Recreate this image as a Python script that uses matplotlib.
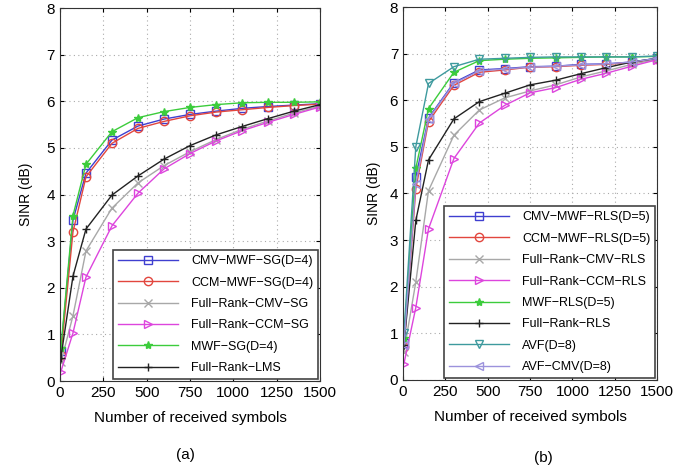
import matplotlib.pyplot as plt

plt.rcParams['font.family'] = ['Liberation Sans', 'DejaVu Sans']

# received symbols (x axis)
symbols = [5, 75, 150, 300, 450, 600, 750, 900, 1050, 1200, 1350, 1500]

# (a) SG algorithms
cmv_mwf_sg = [0.65, 3.45, 4.46, 5.17, 5.47, 5.62, 5.72, 5.79, 5.85, 5.89, 5.92, 5.95]
ccm_mwf_sg = [0.55, 3.2, 4.38, 5.1, 5.42, 5.57, 5.69, 5.77, 5.82, 5.87, 5.91, 5.94]
fr_cmv_sg = [0.4, 1.4, 2.79, 3.71, 4.25, 4.62, 4.92, 5.18, 5.4, 5.58, 5.75, 5.9]
fr_ccm_sg = [0.2, 1.03, 2.23, 3.33, 4.03, 4.55, 4.88, 5.15, 5.37, 5.55, 5.72, 5.88]
mwf_sg = [0.7, 3.55, 4.65, 5.35, 5.65, 5.78, 5.87, 5.93, 5.97, 5.98, 5.98, 5.99]
fr_lms = [0.5, 2.25, 3.26, 3.99, 4.4, 4.76, 5.05, 5.28, 5.46, 5.63, 5.79, 5.93]

# (b) RLS algorithms
cmv_mwf_rls = [0.8, 4.35, 5.62, 6.38, 6.65, 6.68, 6.72, 6.73, 6.77, 6.78, 6.82, 6.9]
ccm_mwf_rls = [0.7, 4.1, 5.54, 6.32, 6.6, 6.65, 6.71, 6.72, 6.75, 6.77, 6.81, 6.88]
fr_cmv_rls = [0.6, 2.1, 4.06, 5.25, 5.79, 6.05, 6.2, 6.33, 6.5, 6.63, 6.77, 6.88]
fr_ccm_rls = [0.35, 1.55, 3.24, 4.75, 5.51, 5.89, 6.16, 6.27, 6.45, 6.58, 6.73, 6.87]
mwf_rls = [0.9, 4.54, 5.82, 6.6, 6.85, 6.88, 6.9, 6.91, 6.92, 6.93, 6.93, 6.94]
fr_rls = [0.75, 3.42, 4.72, 5.6, 5.97, 6.15, 6.33, 6.43, 6.57, 6.7, 6.82, 6.9]
avf = [1.0, 5.0, 6.36, 6.72, 6.88, 6.9, 6.92, 6.93, 6.93, 6.93, 6.93, 6.95]
avf_cmv = [0.75, 4.2, 5.6, 6.36, 6.63, 6.67, 6.71, 6.73, 6.76, 6.78, 6.82, 6.9]

BLUE = '#3f3fd0'
RED = '#e2463e'
GREY = '#a8a8a8'
MAGENTA = '#dd45dd'
GREEN = '#3ccc3c'
BLACK = '#222222'
TEAL = '#3e9a9e'
LAVENDER = '#9c92dc'

series_a = [
    (cmv_mwf_sg, 'CMV\u2212MWF\u2212SG(D=4)', BLUE, 's'),
    (ccm_mwf_sg, 'CCM\u2212MWF\u2212SG(D=4)', RED, 'o'),
    (fr_cmv_sg, 'Full\u2212Rank\u2212CMV\u2212SG', GREY, 'x'),
    (fr_ccm_sg, 'Full\u2212Rank\u2212CCM\u2212SG', MAGENTA, '>'),
    (mwf_sg, 'MWF\u2212SG(D=4)', GREEN, '*'),
    (fr_lms, 'Full\u2212Rank\u2212LMS', BLACK, '+'),
]
series_b = [
    (cmv_mwf_rls, 'CMV\u2212MWF\u2212RLS(D=5)', BLUE, 's'),
    (ccm_mwf_rls, 'CCM\u2212MWF\u2212RLS(D=5)', RED, 'o'),
    (fr_cmv_rls, 'Full\u2212Rank\u2212CMV\u2212RLS', GREY, 'x'),
    (fr_ccm_rls, 'Full\u2212Rank\u2212CCM\u2212RLS', MAGENTA, '>'),
    (mwf_rls, 'MWF\u2212RLS(D=5)', GREEN, '*'),
    (fr_rls, 'Full\u2212Rank\u2212RLS', BLACK, '+'),
    (avf, 'AVF(D=8)', TEAL, 'v'),
    (avf_cmv, 'AVF\u2212CMV(D=8)', LAVENDER, '<'),
]


def draw_panel(ax, series, ylabelpad):
    for vals, label, color, marker in series:
        filled = marker in ('*', '+', 'x')
        ax.plot(symbols, vals, color=color, marker=marker, lw=1.0, ms=6,
                mfc=color if filled else 'none', mec=color, mew=1.0, label=label)
    ax.set_xlim(0, 1500)
    ax.set_ylim(0, 8)
    ax.set_xticks(range(0, 1501, 250))
    ax.set_yticks(range(0, 9))
    ax.tick_params(direction='in', labelsize=11, length=3, top=True, right=True)
    ax.grid(True, linestyle=(0, (1, 3)), color='#aaaaaa', lw=0.8)
    for sp in ax.spines.values():
        sp.set_color('#333333')
    ax.set_xlabel('Number of received symbols', fontsize=11, labelpad=8)
    ax.set_ylabel('SINR (dB)', fontsize=10, labelpad=ylabelpad)
    leg = ax.legend(loc='lower right', fontsize=9, fancybox=False, framealpha=1,
                    edgecolor='#444444', handlelength=4.8, handletextpad=1.0,
                    labelspacing=0.75, borderaxespad=0.15)
    leg.get_frame().set_linewidth(1.2)


fig = plt.figure(figsize=(6.95, 4.69), dpi=100)
ax_a = fig.add_axes([0.0863, 0.1876, 0.374, 0.795])
ax_b = fig.add_axes([0.58, 0.19, 0.3655, 0.795])
draw_panel(ax_a, series_a, 10)
draw_panel(ax_b, series_b, 6)
fig.text(185 / 695, 1 - 455 / 469, '(a)', ha='center', va='center', fontsize=11)
fig.text(543 / 695, 1 - 458 / 469, '(b)', ha='center', va='center', fontsize=11)

fig.savefig('out.png', dpi=100)
